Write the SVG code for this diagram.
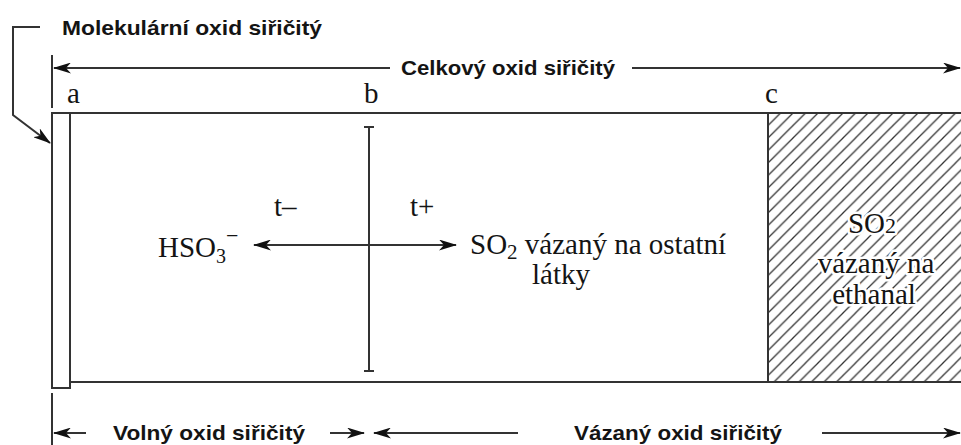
<svg xmlns="http://www.w3.org/2000/svg" width="961" height="445" viewBox="0 0 961 445">
<style>
.ln{stroke:#333;stroke-width:2;fill:none}
.sans{font-family:"Liberation Sans",Arial,sans-serif;font-weight:bold;font-size:20.5px;fill:#141414}
.serif{font-family:"Liberation Serif","Times New Roman",serif;font-size:29px;fill:#141414}
.halo{paint-order:stroke;stroke:#fff;stroke-width:5px;stroke-linejoin:round}
</style>
<defs>
<marker id="arr" viewBox="0 0 18 11" refX="17" refY="5.5" markerWidth="18" markerHeight="11" markerUnits="userSpaceOnUse" orient="auto">
<path d="M0,0 L18,5.5 L0,11 L5,5.5 z" fill="#111"/>
</marker>
<pattern id="hatch" width="12.5" height="12.5" patternUnits="userSpaceOnUse" x="768" y="113">
<path d="M-3,15.5 L15.5,-3 M-3,3 L3,-3 M9.5,15.5 L15.5,9.5" stroke="#333" stroke-width="1.3"/>
</pattern>
</defs>
<g id="connectors">
<polyline class="ln" points="40,27 13,27 13,115 50,143" marker-end="url(#arr)"/>
<line class="ln" x1="52" y1="55" x2="52" y2="108"/>
<line class="ln" x1="390" y1="68" x2="54" y2="68" marker-end="url(#arr)"/>
<line class="ln" x1="632" y1="68" x2="960" y2="68" marker-end="url(#arr)"/>
<line class="ln" x1="52" y1="393" x2="52" y2="445"/>
<line class="ln" x1="86" y1="433" x2="54" y2="433" marker-end="url(#arr)"/>
<line class="ln" x1="330" y1="433" x2="364" y2="433" marker-end="url(#arr)"/>
<line class="ln" x1="518" y1="433" x2="374" y2="433" marker-end="url(#arr)"/>
<line class="ln" x1="822" y1="433" x2="960" y2="433" marker-end="url(#arr)"/>
<line class="ln" x1="369" y1="245" x2="254" y2="245" marker-end="url(#arr)"/>
<line class="ln" x1="369" y1="245" x2="456" y2="245" marker-end="url(#arr)"/>
</g>
<g id="main-box">
<rect x="768" y="113" width="200" height="269" fill="url(#hatch)"/>
<line class="ln" x1="52" y1="113" x2="961" y2="113"/>
<line class="ln" x1="70" y1="382" x2="961" y2="382"/>
<line class="ln" x1="768" y1="113" x2="768" y2="382"/>
<rect class="ln" x="52" y="113" width="18" height="275"/>
</g>
<g id="divider-b">
<line class="ln" x1="369" y1="127" x2="369" y2="371"/>
<line class="ln" x1="364" y1="127" x2="374" y2="127"/>
<line class="ln" x1="364" y1="371" x2="374" y2="371"/>
</g>
<g id="labels">
<text class="sans" x="62" y="35" textLength="260" lengthAdjust="spacingAndGlyphs">Molekulární oxid siřičitý</text>
<text class="sans" x="401" y="75" textLength="214" lengthAdjust="spacingAndGlyphs">Celkový oxid siřičitý</text>
<text class="sans" x="113" y="440" textLength="192" lengthAdjust="spacingAndGlyphs">Volný oxid siřičitý</text>
<text class="sans" x="574" y="440" textLength="208" lengthAdjust="spacingAndGlyphs">Vázaný oxid siřičitý</text>
<text class="serif" x="67" y="103" font-size="27">a</text>
<text class="serif" x="364" y="103" font-size="27">b</text>
<text class="serif" x="765" y="103" font-size="27">c</text>
</g>
<g id="free-node">
<text class="serif" x="274" y="216" font-size="27">t–</text>
<text class="serif" x="158" y="257">HSO<tspan font-size="20" dy="6">3</tspan><tspan font-size="22" dy="-20">−</tspan></text>
</g>
<g id="bound-other-node">
<text class="serif" x="410" y="216" font-size="27">t+</text>
<text class="serif" x="470" y="254">SO<tspan font-size="21" dy="5">2</tspan><tspan dy="-5"> vázaný na ostatní</tspan></text>
<text class="serif" x="532" y="284">látky</text>
</g>
<g id="bound-ethanal-node">
<text class="serif halo" x="872" y="233" text-anchor="middle">SO<tspan font-size="22">2</tspan></text>
<text class="serif halo" x="876" y="273" text-anchor="middle">vázaný na</text>
<text class="serif halo" x="874" y="304" text-anchor="middle">ethanal</text>
</g>
</svg>
